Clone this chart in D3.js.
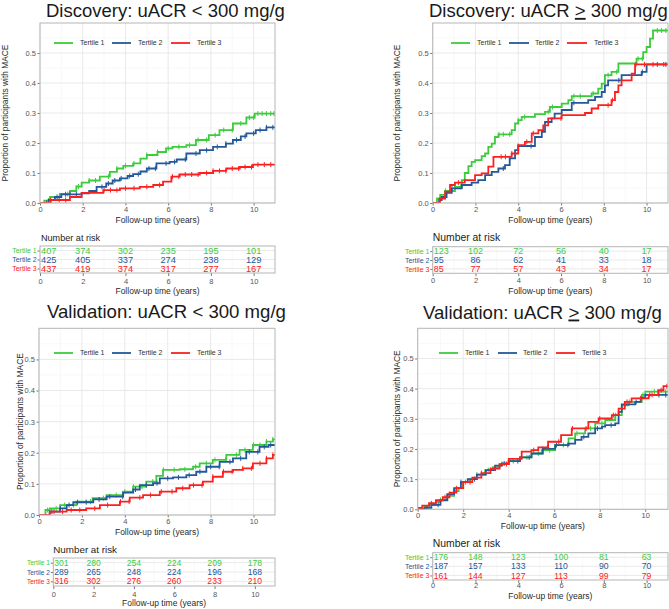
<!DOCTYPE html>
<html><head><meta charset="utf-8">
<script src="https://cdn.jsdelivr.net/npm/d3@7/dist/d3.min.js"></script>
<style>body{margin:0;background:#fff}svg{display:block}</style>
</head><body><svg id="c" width="669" height="609"></svg>
<script>
// ---------------- DATA ----------------
const tertiles = ["Tertile 1", "Tertile 2", "Tertile 3"];
const xTicks = [0, 2, 4, 6, 8, 10];
const yTicks = [0, 0.1, 0.2, 0.3, 0.4, 0.5];
const riskTimes = [0, 2, 4, 6, 8, 10];
const titlePrefix = ["Discovery: uACR ", "Discovery: uACR ", "Validation: uACR ", "Validation: uACR "];
const titleSymbol = ["<", ">", "<", ">"];
const titleUnderline = [false, true, false, true];
const titleSuffix = [" 300 mg/g", " 300 mg/g", " 300 mg/g", " 300 mg/g"];
const yLabel = "Proportion of participants with MACE";
const xLabel = "Follow-up time (years)";
const riskTitle = "Number at risk";

// Discovery, uACR < 300
const disc_lt_t1 = [[0,0],[0.2,0.008],[0.47,0.02],[0.93,0.03],[1.4,0.04],[1.7,0.055],[1.95,0.068],[2.3,0.075],[2.8,0.088],[3.27,0.104],[3.6,0.115],[3.9,0.124],[4.36,0.132],[4.7,0.148],[5.0,0.16],[5.5,0.17],[5.9,0.182],[6.2,0.187],[6.85,0.193],[7.3,0.21],[7.9,0.226],[8.4,0.243],[9.03,0.265],[9.66,0.285],[10.05,0.298]];
const disc_lt_t2 = [[0,0],[0.4,0.01],[0.7,0.02],[1.0,0.029],[1.95,0.032],[2.3,0.04],[2.65,0.054],[3.1,0.065],[3.4,0.075],[3.74,0.082],[4.1,0.09],[4.36,0.096],[4.7,0.105],[5.0,0.115],[5.45,0.132],[6.07,0.137],[6.4,0.145],[6.85,0.165],[7.48,0.176],[8.1,0.187],[8.7,0.198],[9.03,0.21],[9.4,0.222],[9.66,0.232],[10.1,0.243],[10.6,0.252]];
const disc_lt_t3 = [[0,0],[0.5,0.01],[1.4,0.02],[1.95,0.034],[2.96,0.043],[3.74,0.049],[4.67,0.054],[5.3,0.06],[5.76,0.071],[6.15,0.088],[6.54,0.095],[7.48,0.1],[8.1,0.107],[8.72,0.115],[9.35,0.12],[9.97,0.128]];
// Discovery, uACR >= 300
const disc_ge_t1 = [[0,0],[0.2,0.015],[0.35,0.027],[0.58,0.04],[1.04,0.054],[1.36,0.076],[1.5,0.1],[1.67,0.123],[1.82,0.137],[1.98,0.143],[2.29,0.156],[2.45,0.165],[2.6,0.187],[2.76,0.198],[2.91,0.22],[3.07,0.229],[3.69,0.243],[3.85,0.265],[4.0,0.276],[4.16,0.287],[4.78,0.296],[5.25,0.304],[5.48,0.32],[6.03,0.331],[6.34,0.343],[6.5,0.356],[7.43,0.365],[7.74,0.381],[7.9,0.398],[8.05,0.426],[8.36,0.437],[8.68,0.465],[9.53,0.481],[9.84,0.503],[10.0,0.52],[10.16,0.548],[10.3,0.575]];
const disc_ge_t2 = [[0,0],[0.3,0.01],[0.42,0.02],[0.65,0.034],[0.89,0.049],[1.36,0.06],[1.82,0.068],[2.13,0.076],[2.45,0.093],[2.76,0.104],[3.07,0.115],[3.38,0.126],[3.6,0.149],[3.85,0.176],[4.0,0.19],[4.78,0.22],[5.1,0.237],[5.25,0.27],[5.56,0.282],[5.7,0.298],[6.03,0.31],[6.5,0.334],[7.27,0.343],[7.59,0.354],[7.9,0.37],[8.05,0.392],[8.2,0.409],[8.83,0.426],[9.77,0.437],[10.0,0.462]];
const disc_ge_t3 = [[0,0],[0.34,0.015],[0.58,0.038],[0.81,0.06],[1.04,0.068],[1.5,0.076],[1.98,0.093],[2.29,0.099],[2.6,0.121],[2.84,0.154],[3.69,0.165],[4.0,0.193],[4.31,0.204],[4.63,0.232],[4.94,0.243],[5.17,0.259],[5.4,0.282],[6.03,0.293],[7.12,0.3],[7.43,0.315],[7.74,0.326],[8.36,0.343],[8.52,0.37],[8.68,0.392],[8.83,0.409],[9.3,0.431],[9.46,0.462]];
// Validation, uACR < 300
const val_lt_t1 = [[0,0],[0.3,0.016],[0.5,0.021],[0.98,0.032],[1.75,0.043],[2.5,0.054],[3.15,0.064],[3.92,0.075],[4.39,0.091],[5.0,0.107],[5.47,0.126],[5.78,0.145],[6.56,0.147],[7.18,0.155],[7.49,0.166],[8.1,0.177],[8.73,0.193],[9.35,0.209],[9.97,0.225],[10.6,0.236],[10.9,0.243]];
const val_lt_t2 = [[0,0],[0.5,0.011],[0.98,0.021],[1.29,0.032],[1.6,0.041],[2.53,0.05],[3.15,0.059],[3.92,0.072],[4.39,0.082],[4.7,0.096],[5.32,0.102],[5.63,0.118],[6.25,0.121],[6.87,0.128],[7.33,0.139],[7.8,0.155],[8.42,0.171],[9.04,0.182],[9.66,0.203],[10.28,0.219],[10.7,0.225]];
const val_lt_t3 = [[0,0],[0.5,0.011],[1.29,0.016],[2.2,0.021],[2.84,0.032],[3.77,0.043],[4.23,0.056],[4.85,0.064],[5.63,0.075],[6.4,0.086],[7.02,0.096],[7.64,0.107],[8.1,0.123],[8.57,0.139],[9.04,0.145],[9.5,0.15],[9.97,0.166],[10.6,0.182],[10.9,0.193]];
// Validation, uACR >= 300
const val_ge_t1 = [[0,0],[0.3,0.008],[0.5,0.014],[0.8,0.025],[1.0,0.031],[1.3,0.045],[1.6,0.06],[1.8,0.07],[2.0,0.09],[2.3,0.1],[2.6,0.115],[2.96,0.13],[3.3,0.14],[3.6,0.15],[4.0,0.16],[4.5,0.172],[5.0,0.185],[5.45,0.196],[6.04,0.213],[6.63,0.235],[6.92,0.252],[7.36,0.268],[7.8,0.285],[8.24,0.296],[8.68,0.312],[8.97,0.345],[9.27,0.356],[9.85,0.379],[10.0,0.39]];
const val_ge_t2 = [[0,0],[0.3,0.005],[0.6,0.015],[1.0,0.03],[1.3,0.05],[1.6,0.07],[1.9,0.09],[2.2,0.1],[2.6,0.115],[3.0,0.13],[3.4,0.145],[3.7,0.152],[4.0,0.16],[4.5,0.172],[5.0,0.185],[5.5,0.2],[6.04,0.213],[6.63,0.218],[6.92,0.23],[7.2,0.24],[7.5,0.252],[7.8,0.268],[8.1,0.274],[8.24,0.279],[8.68,0.285],[8.83,0.323],[8.97,0.348],[9.56,0.356],[9.8,0.37],[10.0,0.379]];
const val_ge_t3 = [[0,0.005],[0.2,0.012],[0.5,0.02],[0.8,0.03],[1.1,0.04],[1.4,0.055],[1.7,0.07],[2.0,0.09],[2.4,0.105],[2.8,0.12],[3.2,0.135],[3.6,0.15],[4.0,0.167],[4.57,0.191],[5.0,0.196],[5.3,0.205],[5.73,0.224],[6.3,0.246],[6.77,0.268],[7.5,0.29],[7.95,0.301],[8.53,0.312],[8.83,0.334],[9.1,0.356],[9.4,0.368],[10.15,0.379],[10.57,0.395],[10.8,0.408]];

// censoring times
const cens_disc_lt_t1 = [0.4,0.9,1.3,1.8,2.3,2.6,3.2,3.6,4.0,4.4,5.0,5.5,6.0,6.5,7.0,7.4,7.8,8.2,8.6,9.0,9.4,9.8,10.0,10.2,10.4,10.6,10.8,10.95];
const cens_disc_lt_t2 = [0.3,0.8,1.2,1.4,1.7,2.9,3.2,3.5,3.8,4.2,4.6,5.1,5.4,5.9,6.3,6.8,7.3,7.8,8.3,8.7,9.2,9.6,10.0,10.3,10.6,10.9];
const cens_disc_lt_t3 = [0.5,0.9,1.2,3.0,3.3,3.6,4.0,4.4,5.0,5.6,6.2,6.5,6.8,7.1,7.4,7.8,8.1,8.4,8.7,9.0,9.3,9.6,9.9,10.2,10.5,10.8];
const cens_disc_ge_t1 = [0.6,1.3,3.1,3.3,3.6,4.0,4.3,5.4,5.6,6.6,6.9,7.5,8.2,8.6,9.6,9.8,10.5,10.7,10.9];
const cens_disc_ge_t2 = [0.9,3.3,3.6,4.0,4.6,6.6,8.7,9.8,10.5,10.9];
const cens_disc_ge_t3 = [1.2,3.2,3.4,3.7,4.4,4.7,6.0,8.2,8.4,9.5,9.9,10.3,10.8];
const cens_val_lt_t1 = [0.4,0.8,1.2,1.6,2.4,3.0,3.6,4.0,4.4,4.8,5.3,5.8,6.3,6.8,7.3,7.8,8.2,8.7,9.2,9.6,10.0,10.3,10.6,10.9];
const cens_val_lt_t2 = [0.6,1.0,1.4,1.8,2.2,2.8,3.3,3.9,4.5,5.0,5.5,6.0,6.5,7.0,7.5,8.0,8.4,8.9,9.4,9.8,10.2,10.5,10.8];
const cens_val_lt_t3 = [0.7,1.1,1.5,1.9,2.6,3.2,3.8,4.2,4.7,5.2,5.7,6.2,6.7,7.2,7.6,8.1,8.6,9.0,9.5,9.9,10.3,10.6,10.9];
const cens_val_ge_t1 = [0.5,1.0,1.6,2.1,2.6,3.1,3.7,4.2,4.8,5.3,5.8,6.4,7.0,7.6,8.1,8.7,9.3,9.9,10.4,10.9];
const cens_val_ge_t2 = [0.4,0.9,1.4,1.9,2.5,3.2,3.8,4.4,4.9,5.5,6.1,6.6,7.3,7.9,8.5,9.1,9.6,10.2,10.6,10.9];
const cens_val_ge_t3 = [0.6,1.2,1.7,2.3,2.8,3.4,3.9,4.5,5.1,5.7,6.2,6.8,7.4,8.0,8.6,9.2,9.8,10.3,10.7,10.95];

// numbers at risk
const risk_disc_lt = [[407,374,302,235,195,101],[425,405,337,274,238,129],[437,419,374,317,277,167]];
const risk_disc_ge = [[123,102,72,56,40,17],[95,86,62,41,33,18],[85,77,57,43,34,17]];
const risk_val_lt = [[301,280,254,224,209,178],[289,265,248,224,196,168],[316,302,276,260,233,210]];
const risk_val_ge = [[176,148,123,100,81,63],[187,157,133,110,90,70],[161,144,127,113,99,79]];

const curves = [[disc_lt_t1,disc_lt_t2,disc_lt_t3],[disc_ge_t1,disc_ge_t2,disc_ge_t3],[val_lt_t1,val_lt_t2,val_lt_t3],[val_ge_t1,val_ge_t2,val_ge_t3]];
const censors = [[cens_disc_lt_t1,cens_disc_lt_t2,cens_disc_lt_t3],[cens_disc_ge_t1,cens_disc_ge_t2,cens_disc_ge_t3],[cens_val_lt_t1,cens_val_lt_t2,cens_val_lt_t3],[cens_val_ge_t1,cens_val_ge_t2,cens_val_ge_t3]];
const risks = [risk_disc_lt, risk_disc_ge, risk_val_lt, risk_val_ge];

// ---------------- STYLE / LAYOUT ----------------
const colors = ["#3dcb3d", "#23599b", "#fb2020"];
const F = "'Liberation Sans', Arial, sans-serif";
const layout = [
  {px:[40,275], py:[23,203], title:[46,285,16.9], ylx:5.5, leg:43, legItems:[[54,73,80],[112,131,138],[171,190,197]],
   tb:{x:[40,275], y:[246,273], nar:[41,240.7,9.1], pad:2.3, ttl:20.6, num:9.3, lab:7}},
  {px:[432.7,668], py:[23,203], title:[429,668,16.9], ylx:397.5, leg:43, legItems:[[451,470,477],[509,529,535],[567,587,594]],
   tb:{x:[432.7,668], y:[246.7,273.3], nar:[432.7,240.7,10.4], pad:1.8, ttl:20.2, num:9, lab:7}},
  {px:[39,275], py:[328.3,515], title:[47,287,318], ylx:20, leg:353, legItems:[[54,73,80],[112,131,138],[171,190,197]],
   tb:{x:[53.3,275], y:[558,586], nar:[53.3,552.7,9.8], pad:2.3, ttl:19.8, num:8.6, lab:6.6}},
  {px:[417.7,668], py:[328.3,509.3], title:[423,668,318.5], ylx:397.5, leg:353, legItems:[[439,458,465],[498,517,523],[556,575,582]],
   tb:{x:[432.7,668], y:[552.7,580], nar:[432.7,547.3,10.4], pad:0, ttl:19, num:8.6, lab:7}}
];

const svg = d3.select("#c");
svg.append("rect").attr("width",669).attr("height",609).attr("fill","#fff");

function stepAt(data, t) {
  let v = data[0][1];
  for (const d of data) { if (d[0] <= t) v = d[1]; else break; }
  return v;
}

layout.forEach((L, i) => {
  const g = svg.append("g");
  const x = d3.scaleLinear().domain([0, 11]).range(L.px);
  const y = d3.scaleLinear().domain([0, 0.6]).range([L.py[1], L.py[0]]);

  // title
  const tt = g.append("text").attr("x", L.title[0]).attr("y", L.title[2])
    .attr("font-family", F).attr("font-size", 18).attr("fill", "#1a1a1a");
  tt.append("tspan").text(titlePrefix[i]);
  const sym = tt.append("tspan").text(titleSymbol[i]);
  if (titleUnderline[i]) sym.style("text-decoration", "underline");
  tt.append("tspan").text(titleSuffix[i]);
  const w = tt.node().getComputedTextLength();
  tt.attr("font-size", Math.min(18.6, 18 * (L.title[1] - L.title[0]) / w));

  // grid
  const minorX = [1,3,5,7,9];
  const minorY = [0.05,0.15,0.25,0.35,0.45,0.55];
  g.selectAll(null).data(minorX).join("line").attr("x1", d=>x(d)).attr("x2", d=>x(d))
    .attr("y1", L.py[0]).attr("y2", L.py[1]).attr("stroke", "#f3f3f3").attr("stroke-width", 0.6);
  g.selectAll(null).data(minorY).join("line").attr("y1", d=>y(d)).attr("y2", d=>y(d))
    .attr("x1", L.px[0]).attr("x2", L.px[1]).attr("stroke", "#f3f3f3").attr("stroke-width", 0.6);
  g.selectAll(null).data(xTicks).join("line").attr("x1", d=>x(d)).attr("x2", d=>x(d))
    .attr("y1", L.py[0]).attr("y2", L.py[1]).attr("stroke", "#e6e6e6").attr("stroke-width", 0.9);
  g.selectAll(null).data(yTicks).join("line").attr("y1", d=>y(d)).attr("y2", d=>y(d))
    .attr("x1", L.px[0]).attr("x2", L.px[1]).attr("stroke", "#e6e6e6").attr("stroke-width", 0.9);

  // axes
  const ax = g.append("g").attr("transform", `translate(0,${L.py[1]})`)
    .call(d3.axisBottom(x).tickValues(xTicks).tickFormat(d3.format("d")).tickSize(2.5).tickPadding(1));
  const ay = g.append("g").attr("transform", `translate(${L.px[0]},0)`)
    .call(d3.axisLeft(y).tickValues(yTicks).tickFormat(d3.format(".1f")).tickSize(2.5).tickPadding(1.5));
  [ax, ay].forEach(a => {
    a.select(".domain").remove();
    a.selectAll("line").attr("stroke", "#555").attr("stroke-width", 0.8);
    a.selectAll("text").attr("font-family", F).attr("font-size", 7.5).attr("fill", "#555");
  });
  g.append("text").attr("x", (L.px[0]+L.px[1])/2).attr("y", L.py[1] + 19.8).attr("text-anchor", "middle")
    .attr("font-family", F).attr("font-size", 8.5).attr("fill", "#2a2a2a").text(xLabel);
  g.append("text").attr("transform", `translate(${L.ylx},${(L.py[0]+L.py[1])/2}) rotate(-90)`)
    .attr("text-anchor", "middle").attr("dy", "0.35em")
    .attr("font-family", F).attr("font-size", 8.4).attr("fill", "#2a2a2a").text(yLabel);

  // curves
  const clipId = "clip" + i;
  svg.append("clipPath").attr("id", clipId).append("rect")
    .attr("x", L.px[0]).attr("y", L.py[0] - 2).attr("width", L.px[1] - L.px[0]).attr("height", L.py[1] - L.py[0] + 2);
  const cg = g.append("g").attr("clip-path", `url(#${clipId})`);
  const line = d3.line().x(d => x(d[0])).y(d => y(d[1])).curve(d3.curveStepAfter);
  curves[i].forEach((data, k) => {
    const full = data.concat([[11, data[data.length - 1][1]]]);
    cg.append("path").attr("d", line(full)).attr("fill", "none").attr("stroke", colors[k]).attr("stroke-width", 1.8);
    cg.selectAll(null).data(censors[i][k]).join("line")
      .attr("x1", d => x(d)).attr("x2", d => x(d))
      .attr("y1", d => y(stepAt(data, d)) - 2.5).attr("y2", d => y(stepAt(data, d)) + 2.5)
      .attr("stroke", colors[k]).attr("stroke-width", 1);
  });

  // border
  g.append("rect").attr("x", L.px[0]).attr("y", L.py[0]).attr("width", L.px[1] - L.px[0]).attr("height", L.py[1] - L.py[0])
    .attr("fill", "none").attr("stroke", "#b5b5b5").attr("stroke-width", 1);

  // legend
  tertiles.forEach((name, k) => {
    const it = L.legItems[k];
    g.append("line").attr("x1", it[0]).attr("x2", it[1]).attr("y1", L.leg).attr("y2", L.leg)
      .attr("stroke", colors[k]).attr("stroke-width", 1.8);
    g.append("text").attr("x", it[2]).attr("y", L.leg).attr("dy", "0.35em")
      .attr("font-family", F).attr("font-size", 7).attr("fill", "#333").text(name);
  });

  // risk table
  const T = L.tb;
  const tx = d3.scaleLinear().domain([0, 11]).range(T.x);
  const ty = d3.scalePoint().domain(tertiles).range(T.y).padding(0.5);
  g.append("text").attr("x", T.nar[0]).attr("y", T.nar[1]).attr("font-family", F)
    .attr("font-size", T.nar[2]).attr("fill", "#222").text(riskTitle);
  g.selectAll(null).data(minorX).join("line").attr("x1", d=>tx(d)).attr("x2", d=>tx(d))
    .attr("y1", T.y[0]).attr("y2", T.y[1]).attr("stroke", "#f3f3f3").attr("stroke-width", 0.6);
  g.selectAll(null).data(xTicks).join("line").attr("x1", d=>tx(d)).attr("x2", d=>tx(d))
    .attr("y1", T.y[0]).attr("y2", T.y[1]).attr("stroke", "#e8e8e8").attr("stroke-width", 0.9);
  g.selectAll(null).data(tertiles).join("line").attr("y1", d=>ty(d)).attr("y2", d=>ty(d))
    .attr("x1", T.x[0]).attr("x2", T.x[1]).attr("stroke", "#e8e8e8").attr("stroke-width", 0.9);
  const tax = g.append("g").attr("transform", `translate(0,${T.y[1]})`)
    .call(d3.axisBottom(tx).tickValues(xTicks).tickFormat(d3.format("d")).tickSize(3).tickPadding(T.pad));
  const tay = g.append("g").attr("transform", `translate(${T.x[0]},0)`)
    .call(d3.axisLeft(ty).tickSize(2.5).tickPadding(0.8));
  [tax, tay].forEach(a => { a.select(".domain").remove(); a.selectAll("line").attr("stroke", "#555").attr("stroke-width", 0.8); });
  tax.selectAll("text").attr("font-family", F).attr("font-size", 7.5).attr("fill", "#555");
  tay.selectAll("text").attr("font-family", F).attr("font-size", T.lab).attr("fill", (d, k) => colors[k]);
  g.append("text").attr("x", (T.x[0]+T.x[1])/2).attr("y", T.y[1] + T.ttl).attr("text-anchor", "middle")
    .attr("font-family", F).attr("font-size", 8.5).attr("fill", "#2a2a2a").text(xLabel);
  risks[i].forEach((row, k) => {
    g.selectAll(null).data(row).join("text")
      .attr("x", (d, j) => j === 0 ? tx(riskTimes[j]) + 1 : tx(riskTimes[j]))
      .attr("text-anchor", (d, j) => j === 0 ? "start" : "middle")
      .attr("y", ty(tertiles[k])).attr("dy", "0.36em")
      .attr("font-family", F).attr("font-size", T.num).attr("fill", colors[k]).text(d => d);
  });
  g.append("rect").attr("x", T.x[0]).attr("y", T.y[0]).attr("width", T.x[1] - T.x[0]).attr("height", T.y[1] - T.y[0])
    .attr("fill", "none").attr("stroke", "#b5b5b5").attr("stroke-width", 1);
});
</script></body></html>
